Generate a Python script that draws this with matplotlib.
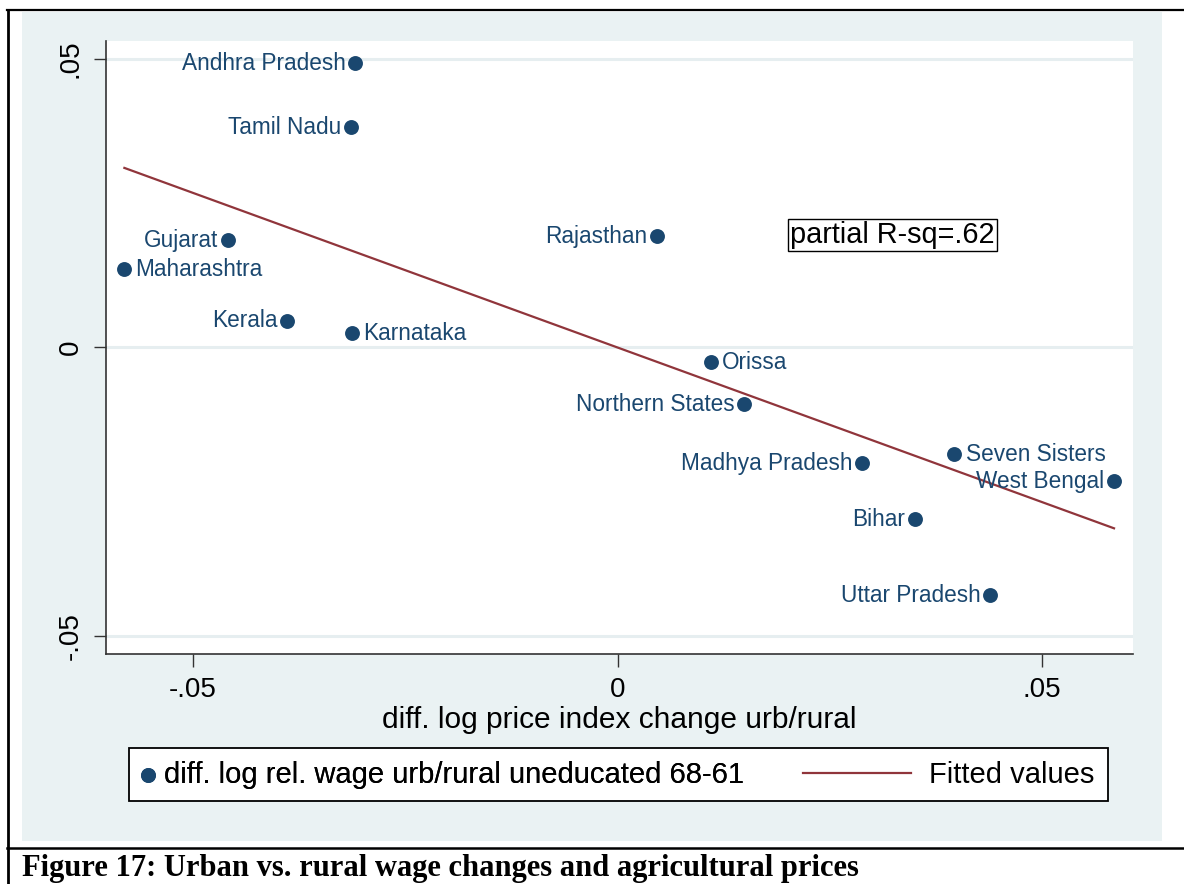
import numpy as np
import matplotlib.pyplot as plt
from matplotlib.patches import Rectangle
from matplotlib.lines import Line2D

# states, price change (x) and relative wage change (y)
states = ["Andhra Pradesh", "Tamil Nadu", "Gujarat", "Maharashtra", "Kerala",
          "Karnataka", "Rajasthan", "Orissa", "Northern States", "Madhya Pradesh",
          "Seven Sisters", "West Bengal", "Bihar", "Uttar Pradesh"]
price_chg = [-0.0309, -0.0314, -0.0459, -0.0581, -0.0389,
             -0.0313, 0.0046, 0.0110, 0.0149, 0.0288,
             0.0397, 0.0585, 0.0350, 0.0439]
wage_chg = [0.0493, 0.0382, 0.0186, 0.0136, 0.0046,
            0.0025, 0.0193, -0.0026, -0.0098, -0.0201,
            -0.0185, -0.0232, -0.0298, -0.0430]
# label side: 'l' = left of marker, 'r' = right
label_side = ["l", "l", "l", "r", "l", "r", "l", "r", "l", "l", "r", "l", "l", "l"]

# fitted line from partial regression
fit_slope = -0.536
fit_icept = 0.0
r_sq_text = "partial R-sq=.62"

xticks = [-0.05, 0.0, 0.05]
xticklabels = ["-.05", "0", ".05"]
yticks = [-0.05, 0.0, 0.05]
yticklabels = ["-.05", "0", ".05"]

NAVY = "#1A476F"
MAROON = "#90353B"
BG = "#EAF2F3"

plt.rcParams['font.family'] = ['Liberation Sans', 'DejaVu Sans']

W, H = 1184, 884
fig = plt.figure(figsize=(W / 100, H / 100), dpi=100)
fig.patch.set_facecolor("white")

# outer graph region and frame
fig.add_artist(Rectangle((22 / W, 1 - 841 / H), (1162 - 22) / W, (841 - 12) / H,
                         transform=fig.transFigure, facecolor=BG, edgecolor="none", zorder=0))
fig.add_artist(Line2D([7.5 / W, 7.5 / W], [0, 1 - 10 / H], transform=fig.transFigure,
                      color="black", lw=2))
fig.add_artist(Line2D([7 / W, 1], [1 - 10 / H, 1 - 10 / H], transform=fig.transFigure,
                      color="black", lw=1.6))
fig.add_artist(Line2D([7 / W, 1], [1 - 848 / H, 1 - 848 / H], transform=fig.transFigure,
                      color="black", lw=1.8))

ax = fig.add_axes([105.7 / W, 1 - 653.7 / H, (1132.7 - 105.7) / W, (653.7 - 40.7) / H])
ax.set_facecolor("white")
ax.set_xlim(-0.0603, 0.0607)
ax.set_ylim(-0.0531, 0.0532)

for yv in yticks:
    ax.axhline(yv, color="#E6EEF0", lw=2.2, zorder=1)

x = np.array(price_chg)
y = np.array(wage_chg)
pts = ax.scatter(x, y, s=115, color=NAVY, zorder=3, linewidths=0)

xf = np.array([x.min(), x.max()])
line, = ax.plot(xf, fit_icept + fit_slope * xf, color=MAROON, lw=1.6, zorder=2)

for name, xv, yv, side in zip(states, x, y, label_side):
    if side == "l":
        ax.annotate(name, (xv, yv), xytext=(-7, 0), textcoords="offset points",
                    ha="right", va="center", fontsize=16.3, color=NAVY, zorder=4)
    else:
        ax.annotate(name, (xv, yv), xytext=(8, 0), textcoords="offset points",
                    ha="left", va="center", fontsize=16.3, color=NAVY, zorder=4)

ax.text(0.0324, 0.0195, r_sq_text, ha="center", va="center", fontsize=20.8,
        color="black", zorder=4,
        bbox=dict(boxstyle="square,pad=0.06", facecolor="white", edgecolor="black", lw=1))

for s in ["top", "right"]:
    ax.spines[s].set_visible(False)
for s in ["left", "bottom"]:
    ax.spines[s].set_color("#333333")
    ax.spines[s].set_linewidth(1.2)

ax.set_xticks(xticks)
ax.set_xticklabels(xticklabels)
ax.set_yticks(yticks)
ax.set_yticklabels(yticklabels, rotation=90, va="center")
ax.tick_params(axis="both", length=9, width=1, color="#333333", labelsize=20)
ax.tick_params(axis="x", pad=8)
ax.tick_params(axis="y", pad=7)
ax.set_xlabel("diff. log price index change urb/rural", fontsize=21.5, labelpad=2)

# legend: frame plus two frameless legends for the entries
fig.add_artist(Rectangle((129 / W, 1 - 801 / H), (1108 - 129) / W, (801 - 748) / H,
                         transform=fig.transFigure, facecolor="white", edgecolor="black",
                         lw=1.3, zorder=1))
leg1 = fig.legend([pts], ["diff. log rel. wage urb/rural uneducated 68-61"],
                  loc="center left", bbox_to_anchor=(139 / W, 1 - 775 / H),
                  frameon=False, fontsize=21, handlelength=0.6, handletextpad=0.25,
                  borderpad=0, borderaxespad=0, scatterpoints=1, markerscale=1.0)
leg2 = fig.legend([line], ["Fitted values"],
                  loc="center left", bbox_to_anchor=(803 / W, 1 - 775 / H),
                  frameon=False, fontsize=21, handlelength=3.7, handletextpad=0.62,
                  borderpad=0, borderaxespad=0)
fig.add_artist(leg1)

fig.text(22 / W, 1 - 876 / H, "Figure 17: Urban vs. rural wage changes and agricultural prices",
         family=["Liberation Serif", "DejaVu Serif"], weight="bold", fontsize=22,
         ha="left", va="baseline")

fig.savefig("out.png", dpi=100)
